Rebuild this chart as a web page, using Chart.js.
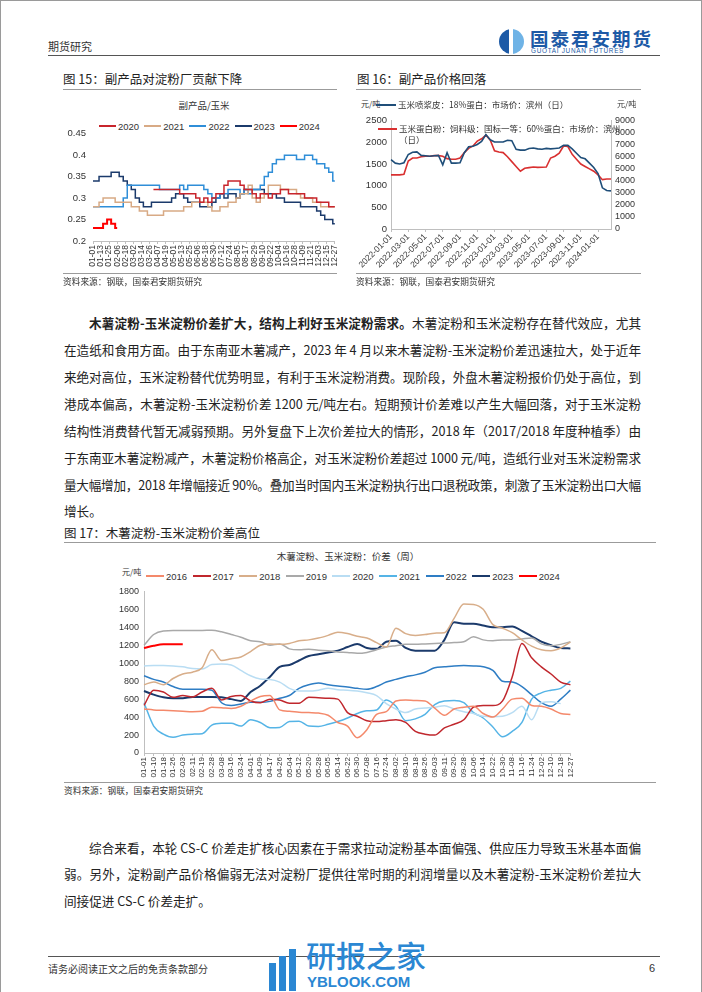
<!DOCTYPE html>
<html lang="zh-CN">
<head>
<meta charset="utf-8">
<title>期货研究</title>
<script src="https://cdn.jsdelivr.net/npm/chart.js@4.4.1/dist/chart.umd.min.js"></script>
<style>
  html, body { margin: 0; padding: 0; background: #fff; }
  #page {
    position: relative; width: 702px; height: 992px; overflow: hidden;
    box-sizing: border-box; border: 1px solid #9a9a9a; border-bottom: 0;
    font-family: "Noto Sans CJK SC", "Liberation Sans", sans-serif; color: #222;
  }
  .t { position: absolute; white-space: nowrap; line-height: 1; }
  .rule { position: absolute; height: 0; border-top: 1.5px solid #9b9b9b; }
  .darkrule { position: absolute; height: 0; border-top: 1.5px solid #555; }
  .figtitle { font-size: 12.5px; color: #222; }
  .src { font-size: 8.7px; color: #333; }
  .pl { position: absolute; left: 63px; width: 577px; font-size: 12.6px; line-height: 18px;
        white-space: nowrap; color: #222; }
  .legend { position: absolute; white-space: nowrap; font-family: "Liberation Sans", Arial, sans-serif;
            font-size: 9.5px; line-height: 12px; color: #333; }
  .legend .it { display: inline-block; }
  .legend .sw { display: inline-block; height: 2px; vertical-align: middle; margin-right: 2px; position: relative; top: -1px; }
  canvas { position: absolute; }
</style>
</head>
<body>
<div id="page">
  <!-- header -->
  <div class="t" style="left:47px;top:40px;font-size:11px;color:#333;">期货研究</div>
  <div style="position:absolute;left:498px;top:28px;width:25px;height:25px;border-radius:50%;
       background:linear-gradient(90deg,#1d5aa6 0,#1d5aa6 42%,#fff 42%,#fff 54%,#6fb3e6 54%,#6fb3e6 100%);"></div>
  <div class="t" style="left:529px;top:28px;font-size:18.5px;font-weight:700;color:#1d5aa6;letter-spacing:2px;">国泰君安期货</div>
  <div class="t" style="left:530px;top:47px;font-size:6.4px;color:#1d5aa6;font-family:'Liberation Sans',Arial,sans-serif;letter-spacing:0.7px;">GUOTAI JUNAN FUTURES</div>
  <div class="darkrule" style="left:47px;top:54px;width:612px;"></div>

  <!-- fig 15 -->
  <div class="t figtitle" style="left:62px;top:72px;">图 15：副产品对淀粉厂贡献下降</div>
  <div class="rule" style="left:62px;top:88px;width:274px;"></div>
  <div class="t" style="left:203px;top:100px;font-size:9.5px;color:#333;transform:translateX(-50%);">副产品/玉米</div>
  <div class="legend" id="lg15" style="left:98px;top:120px;"></div>
  <canvas id="c15" width="290" height="155" style="left:55px;top:120px;"></canvas>
  <div class="rule" style="left:62px;top:272px;width:274px;"></div>
  <div class="t src" style="left:62px;top:277px;">资料来源：钢联，国泰君安期货研究</div>

  <!-- fig 16 -->
  <div class="t figtitle" style="left:356px;top:72px;">图 16：副产品价格回落</div>
  <div class="rule" style="left:355px;top:88px;width:285px;"></div>
  <canvas id="c16" width="300" height="163" style="left:345px;top:110px;"></canvas>
  <div class="t" style="left:360px;top:99px;font-size:8px;color:#333;">元/吨</div>
  <div class="t" style="left:616px;top:99px;font-size:8px;color:#333;">元/吨</div>
  <div id="lg16"></div>
  <div class="rule" style="left:355px;top:272px;width:285px;"></div>
  <div class="t src" style="left:355px;top:277px;">资料来源：钢联，国泰君安期货研究</div>

  <!-- paragraph 1 -->
  <div class="pl jl" style="top:313px;"><span style="display:inline-block;width:25px;"></span><b>木薯淀粉-玉米淀粉价差扩大，结构上利好玉米淀粉需求。</b>木薯淀粉和玉米淀粉存在替代效应，尤其</div>
  <div class="pl jl" style="top:340px;">在造纸和食用方面。由于东南亚木薯减产，2023 年 4 月以来木薯淀粉-玉米淀粉价差迅速拉大，处于近年</div>
  <div class="pl jl" style="top:367px;">来绝对高位，玉米淀粉替代优势明显，有利于玉米淀粉消费。现阶段，外盘木薯淀粉报价仍处于高位，到</div>
  <div class="pl jl" style="top:394px;">港成本偏高，木薯淀粉-玉米淀粉价差 1200 元/吨左右。短期预计价差难以产生大幅回落，对于玉米淀粉</div>
  <div class="pl jl" style="top:421px;">结构性消费替代暂无减弱预期。另外复盘下上次价差拉大的情形，2018 年（2017/2018 年度种植季）由</div>
  <div class="pl jl" style="top:448px;">于东南亚木薯淀粉减产，木薯淀粉价格高企，对玉米淀粉价差超过 1000 元/吨，造纸行业对玉米淀粉需求</div>
  <div class="pl jl" style="top:475px;">量大幅增加，2018 年增幅接近 90%。叠加当时国内玉米淀粉执行出口退税政策，刺激了玉米淀粉出口大幅</div>
  <div class="pl" style="top:501px;">增长。</div>

  <!-- fig 17 -->
  <div class="t figtitle" style="left:63px;top:526px;">图 17：木薯淀粉-玉米淀粉价差高位</div>
  <div class="rule" style="left:63px;top:541px;width:592px;"></div>
  <div class="t" style="left:347px;top:551px;font-size:9.5px;color:#333;transform:translateX(-50%);">木薯淀粉、玉米淀粉：价差（周）</div>
  <div class="t" style="left:121px;top:567px;font-size:8px;color:#333;">元/吨</div>
  <div class="legend" id="lg17" style="left:145px;top:570px;"></div>
  <canvas id="c17" width="500" height="200" style="left:80px;top:580px;"></canvas>
  <div class="rule" style="left:63px;top:781px;width:592px;"></div>
  <div class="t src" style="left:63px;top:786px;">资料来源：钢联，国泰君安期货研究</div>

  <!-- paragraph 2 -->
  <div class="pl jl" style="top:838px;"><span style="display:inline-block;width:25px;"></span>综合来看，本轮 CS-C 价差走扩核心因素在于需求拉动淀粉基本面偏强、供应压力导致玉米基本面偏</div>
  <div class="pl jl" style="top:864px;">弱。另外，淀粉副产品价格偏弱无法对淀粉厂提供往常时期的利润增量以及木薯淀粉-玉米淀粉价差拉大</div>
  <div class="pl" style="top:891px;">间接促进 CS-C 价差走扩。</div>

  <!-- footer -->
  <div class="darkrule" style="left:47px;top:955px;width:612px;"></div>
  <div class="t" style="left:47px;top:963px;font-size:10px;color:#333;">请务必阅读正文之后的免责条款部分</div>
  <div class="t" style="left:648px;top:962px;font-size:11px;color:#333;font-family:'Liberation Sans',Arial,sans-serif;">6</div>

  <!-- site watermark -->
  <div style="position:absolute;left:268px;top:962px;width:7px;height:28px;background:#2b87d3;"></div>
  <div style="position:absolute;left:278px;top:955px;width:7px;height:35px;background:#2b87d3;"></div>
  <div style="position:absolute;left:288px;top:948px;width:7px;height:42px;background:#2b87d3;"></div>
  <div class="t" style="left:305px;top:938px;font-size:30px;font-weight:500;color:#2b87d3;">研报之家</div>
  <div class="t" style="left:306px;top:973px;font-size:15px;font-weight:700;color:#2b87d3;font-family:'Liberation Sans',Arial,sans-serif;">YBLOOK.COM</div>
</div>

<script>
// ---------- Figure 15: by-product / corn ratio ----------
const f15Dates = ['01-01','01-07','01-13','01-19','01-25','01-31','02-06','02-12','02-18','02-24',
  '03-02','03-08','03-14','03-20','03-26','04-01','04-07','04-13','04-19','04-25',
  '05-01','05-07','05-13','05-19','05-25','05-31','06-06','06-12','06-18','06-24',
  '06-30','07-06','07-12','07-18','07-24','07-30','08-05','08-11','08-17','08-23',
  '08-29','09-04','09-10','09-16','09-22','09-28','10-04','10-10','10-16','10-22',
  '10-28','11-03','11-09','11-15','11-21','11-27','12-03','12-09','12-15','12-21','12-27'];
const f15Names = ['2020', '2021', '2022', '2023', '2024'];
const f15Colors = ['#c8252c', '#d8aa85', '#2f8ed8', '#1b3a6b', '#ff0000'];
const f15Y2020 = [null,null,null,null,null,null,null,null,null,null,null,null,null,null,null,
  .32,.32,.32,.32,.32,.32,.32,.31,.31,.31,.31,.30,.29,.30,.29,
  .30,.31,.31,.33,.34,.34,.34,.33,.32,.32,.31,.30,.31,.31,.30,
  .31,.31,.32,.32,.31,.31,.31,.31,.30,.30,.30,.29,.29,.29,.28,.28];
const f15Y2021 = [.28,.28,.29,.30,.30,.30,.29,.29,.29,.29,.28,.28,.27,.27,.26,.26,.26,.26,.27,.27,
  .27,.27,.27,.28,.28,.29,.29,.29,.29,.28,.27,.27,.28,.28,.29,.29,.30,.31,.31,.33,
  .30,.29,.30,.31,.33,.33,.33,.32,.32,.32,.32,.31,.30,.30,.30,.29,.29,.28,.28,.28,.28];
const f15Y2022 = [.28,.28,.28,.28,.28,.28,.28,.28,.30,.33,.33,.33,.33,.33,.33,.33,.33,.32,.32,.32,
  .32,.32,.33,.32,.33,.33,.33,.33,.32,.31,.30,.30,.31,.31,.32,.32,.32,.31,.32,.31,
  .32,.32,.33,.35,.36,.38,.39,.39,.40,.40,.40,.39,.39,.40,.40,.39,.38,.38,.37,.36,.34];
const f15Y2023 = [.34,.34,.35,.35,.35,.36,.36,.35,.34,.33,.32,.30,.29,.28,.28,.29,.29,.29,.29,.29,
  .30,.31,.31,.30,.29,.29,.29,.28,.28,.28,.29,.30,.31,.30,.31,.31,.30,.31,.32,.32,
  .32,.32,.32,.31,.31,.31,.30,.30,.29,.29,.29,.29,.28,.28,.28,.28,.27,.26,.25,.25,.24];
const f15Y2024 = [.23,.23,.23,.24,.25,.24,.23];

// ---------- Figure 16: by-product prices ----------
const f16Dates = ['2022-01-01','2022-01-15','2022-02-01','2022-02-15','2022-03-01','2022-03-15',
  '2022-04-01','2022-04-15','2022-05-01','2022-05-15','2022-06-01','2022-06-15',
  '2022-07-01','2022-07-15','2022-08-01','2022-08-15','2022-09-01','2022-09-15',
  '2022-10-01','2022-10-15','2022-11-01','2022-11-15','2022-12-01','2022-12-15',
  '2023-01-01','2023-01-15','2023-02-01','2023-02-15','2023-03-01','2023-03-15',
  '2023-04-01','2023-04-15','2023-05-01','2023-05-15','2023-06-01','2023-06-15',
  '2023-07-01','2023-07-15','2023-08-01','2023-08-15','2023-09-01','2023-09-15',
  '2023-10-01','2023-10-15','2023-11-01','2023-11-15','2023-12-01','2023-12-15',
  '2024-01-01','2024-01-15','2024-02-01','2024-02-15'];
const f16BranName = '玉米喷浆皮：18%蛋白：市场价：滨州（日）';
const f16GlutenName = '玉米蛋白粉：饲料级：国标一等：60%蛋白：市场价：滨州（日）';
// left axis, 元/吨
const f16Bran = [1600,1520,1500,1530,1720,1770,1780,1700,1690,1680,1690,1700,
  1480,1760,1520,1520,1530,1760,1900,1910,1950,2020,2180,2060,
  2010,2010,2010,2050,2040,1840,1820,1820,1860,1870,1850,1840,
  1860,1850,1860,1870,1930,1930,1850,1750,1650,1620,1520,1420,
  1280,950,890,880];
// right axis, 元/吨
const f16Gluten = [4500,4500,4500,4550,5650,5900,5900,6000,6050,6050,6100,6100,
  6050,5850,5800,5800,5900,6350,6700,6900,7300,7500,7800,7400,
  6500,6400,6350,6000,5600,5200,4800,5050,5100,5150,5120,5130,
  5150,5900,6050,6300,6900,6850,6200,5800,5400,5200,5000,4800,
  4500,4100,4150,4150];

// ---------- Figure 17: cassava starch - corn starch spread ----------
const f17Weeks = ['01-01','01-10','01-18','01-26','02-03','02-11','02-19','02-28','03-08','03-16',
  '03-24','04-01','04-09','04-17','04-26','05-04','05-12','05-20','05-28','06-05',
  '06-14','06-22','06-30','07-08','07-16','07-24','08-02','08-10','08-18','08-26',
  '09-03','09-11','09-20','09-28','10-06','10-14','10-22','10-30','11-08','11-16',
  '11-24','12-02','12-10','12-18','12-27'];
const f17Names = ['2016','2017','2018','2019','2020','2021','2022','2023','2024'];
const f17Colors = ['#f4896b','#c0272d','#d8ae8a','#a9a9a9','#b9ddf3','#55b4e6','#2e7dc4','#1b3a6b','#ff0000'];
const f17Y2016 = [490,480,475,470,465,460,465,510,505,495,520,580,630,640,480,465,455,450,445,420,
  340,300,170,260,430,460,580,590,585,580,500,420,490,510,520,440,400,490,600,610,530,520,490,440,430];
const f17Y2017 = [530,700,680,620,640,625,680,720,590,630,640,580,560,600,590,555,555,620,615,610,
  600,450,410,360,350,360,370,340,240,210,200,280,320,370,510,530,530,580,850,1220,1060,960,880,790,760];
const f17Y2018 = [760,790,760,830,880,900,950,1150,1030,1050,1070,1130,1200,1215,1210,1220,1250,1260,1280,1310,
  1345,1330,1300,1280,1230,1180,1390,1330,1310,1320,1335,1340,1500,1660,1655,1600,1430,1390,1340,1260,1190,1150,1140,1170,1235];
const f17Y2019 = [1200,1320,1360,1365,1365,1365,1365,1368,1350,1320,1290,1250,1240,1200,1215,1160,1150,1155,1145,1140,
  1125,1120,1110,1120,1150,1180,1195,1210,1210,1215,1220,1225,1230,1240,1295,1260,1250,1260,1260,1270,1280,1215,1195,1210,1240];
const f17Y2020 = [970,975,975,970,960,940,935,985,990,980,920,860,825,820,790,720,690,690,700,720,
  705,700,690,670,640,550,490,450,490,500,510,525,490,460,440,410,405,410,450,520,370,560,570,550];
const f17Y2021 = [560,300,210,175,200,210,215,310,330,330,300,370,340,280,285,350,355,300,295,320,
  350,390,440,470,480,590,520,360,380,430,540,580,585,560,450,390,290,180,240,340,600,670,700,720,800];
const f17Y2022 = [860,820,790,740,710,710,710,700,560,530,545,565,565,575,610,640,720,760,780,760,
  745,735,720,710,740,790,820,850,870,900,950,960,970,975,970,960,920,800,790,740,650,560,520,600,700];
const f17Y2023 = [690,650,620,610,610,625,625,625,620,600,580,680,750,850,960,980,1030,1080,1100,1120,
  1140,1180,1215,1170,1160,1240,1250,1170,1140,1140,1140,1260,1455,1440,1440,1420,1400,1400,1410,1360,1300,1240,1200,1170,1165];
const f17Y2024 = [1170,1195,1210,1210,1210];

Chart.defaults.font.family = "'Liberation Sans', Arial, sans-serif";
Chart.defaults.color = '#333';

const AXIS = '#bfbfbf';

// stretch each full text line to the column width (justified look)
document.querySelectorAll('.jl').forEach(el => {
  el.innerHTML = '<span>' + el.innerHTML + '</span>';
  const inner = el.firstChild;
  const w = inner.getBoundingClientRect().width;
  const n = el.textContent.length;
  el.style.letterSpacing = ((577 - w) / (n - 1)) + 'px';
});

// simple html legend: short line + label, fixed item width
function buildLegend(id, names, colors, itemWidth, lineWidth) {
  const box = document.getElementById(id);
  names.forEach((name, i) => {
    const it = document.createElement('span');
    it.className = 'it';
    it.style.width = itemWidth + 'px';
    it.innerHTML = '<span class="sw" style="width:' + lineWidth + 'px;background:' + colors[i] + '"></span>' + name;
    box.appendChild(it);
  });
}

function baseOptions(padding) {
  return {
    responsive: false,
    animation: false,
    layout: { padding: padding },
    plugins: { legend: { display: false }, tooltip: { enabled: false } },
    elements: { point: { radius: 0 } }
  };
}

const plainNumber = v => String(Math.round(v * 100) / 100);

// Figure 15
buildLegend('lg15', f15Names, f15Colors, 45.2, 17);
const f15Data = [f15Y2020, f15Y2021, f15Y2022, f15Y2023, f15Y2024];
const opt15 = baseOptions({ top: 8, right: 10, left: 0, bottom: 0 });
opt15.scales = {
  x: {
    offset: false,
    afterFit: s => { s.height = 35; },
    grid: { drawOnChartArea: false, tickLength: 3, color: AXIS },
    border: { color: AXIS },
    ticks: { autoSkip: false, minRotation: 90, maxRotation: 90, padding: 1, font: { size: 8.5 },
      callback: (v, i) => (i % 2 === 0 ? f15Dates[i] : null) }
  },
  y: {
    min: 0.2, max: 0.45,
    afterFit: s => { s.width = 37; },
    grid: { display: false, drawTicks: false },
    border: { display: false },
    ticks: { stepSize: 0.05, padding: 7, font: { size: 9.5 }, callback: plainNumber }
  }
};
new Chart(document.getElementById('c15'), {
  type: 'line',
  data: {
    labels: f15Dates,
    datasets: f15Data.map((d, i) => ({
      label: f15Names[i], data: d, borderColor: f15Colors[i],
      borderWidth: i === 4 ? 2 : 1.5, stepped: 'middle', spanGaps: false
    }))
  },
  options: opt15
});

// Figure 16
(function () {
  const lg = document.getElementById('lg16');
  lg.innerHTML =
    '<div style="position:absolute;left:375px;top:103px;width:20px;height:2px;background:#1f4e79"></div>' +
    '<div class="t" style="left:397px;top:99px;font-size:8.5px;color:#333">' + f16BranName + '</div>' +
    '<div style="position:absolute;left:377px;top:127px;width:19px;height:2px;background:#d93030"></div>' +
    '<div class="t" style="left:398px;top:123px;font-size:8.5px;color:#333">' + f16GlutenName.replace('（日）', '') + '</div>' +
    '<div class="t" style="left:398px;top:134px;font-size:8.5px;color:#333">（日）</div>';
})();
const opt16 = baseOptions({ top: 7, right: 5, left: 0, bottom: 0 });
opt16.scales = {
  x: {
    offset: false,
    afterFit: s => { s.height = 45; },
    grid: { drawOnChartArea: false, tickLength: 3, color: AXIS },
    border: { color: AXIS },
    ticks: { autoSkip: false, minRotation: 45, maxRotation: 45, padding: 0, font: { size: 8.5 },
      callback: (v, i) => (i % 4 === 0 ? f16Dates[i] : null) }
  },
  y: {
    position: 'left', min: 0, max: 2500,
    afterFit: s => { s.width = 45; },
    grid: { display: false, drawTicks: false },
    border: { color: AXIS },
    ticks: { stepSize: 500, padding: 4, font: { size: 9.5 }, autoSkip: false, callback: plainNumber }
  },
  y1: {
    position: 'right', min: 0, max: 9000,
    afterFit: s => { s.width = 30; },
    grid: { display: false, drawTicks: false },
    border: { color: AXIS },
    ticks: { stepSize: 1000, padding: 4, font: { size: 9 }, autoSkip: false, callback: plainNumber }
  }
};
new Chart(document.getElementById('c16'), {
  type: 'line',
  data: {
    labels: f16Dates,
    datasets: [
      { label: f16BranName, data: f16Bran, borderColor: '#1f4e79', borderWidth: 1.6, yAxisID: 'y' },
      { label: f16GlutenName, data: f16Gluten, borderColor: '#d93030', borderWidth: 1.6, yAxisID: 'y1' }
    ]
  },
  options: opt16
});

// Figure 17
buildLegend('lg17', f17Names, f17Colors, 46.6, 18);
const f17Data = [f17Y2016, f17Y2017, f17Y2018, f17Y2019, f17Y2020, f17Y2021, f17Y2022, f17Y2023, f17Y2024];
const opt17 = baseOptions({ top: 8, right: 10, left: 0, bottom: 0 });
opt17.scales = {
  x: {
    offset: false,
    afterFit: s => { s.height = 28; },
    grid: { drawOnChartArea: false, tickLength: 3, color: AXIS },
    border: { color: AXIS },
    ticks: { autoSkip: false, minRotation: 90, maxRotation: 90, padding: 1, font: { size: 8 } }
  },
  y: {
    min: 0, max: 1800,
    afterFit: s => { s.width = 63; },
    grid: { display: false, drawTicks: false },
    border: { color: AXIS },
    ticks: { stepSize: 200, padding: 5, font: { size: 9 }, autoSkip: false, callback: plainNumber }
  }
};
new Chart(document.getElementById('c17'), {
  type: 'line',
  data: {
    labels: f17Weeks,
    datasets: f17Data.map((d, i) => ({
      label: f17Names[i], data: d, borderColor: f17Colors[i],
      borderWidth: (i === 7 || i === 8) ? 2 : 1.5,
      tension: 0.4, cubicInterpolationMode: 'monotone'
    }))
  },
  options: opt17
});
</script>
</body>
</html>
